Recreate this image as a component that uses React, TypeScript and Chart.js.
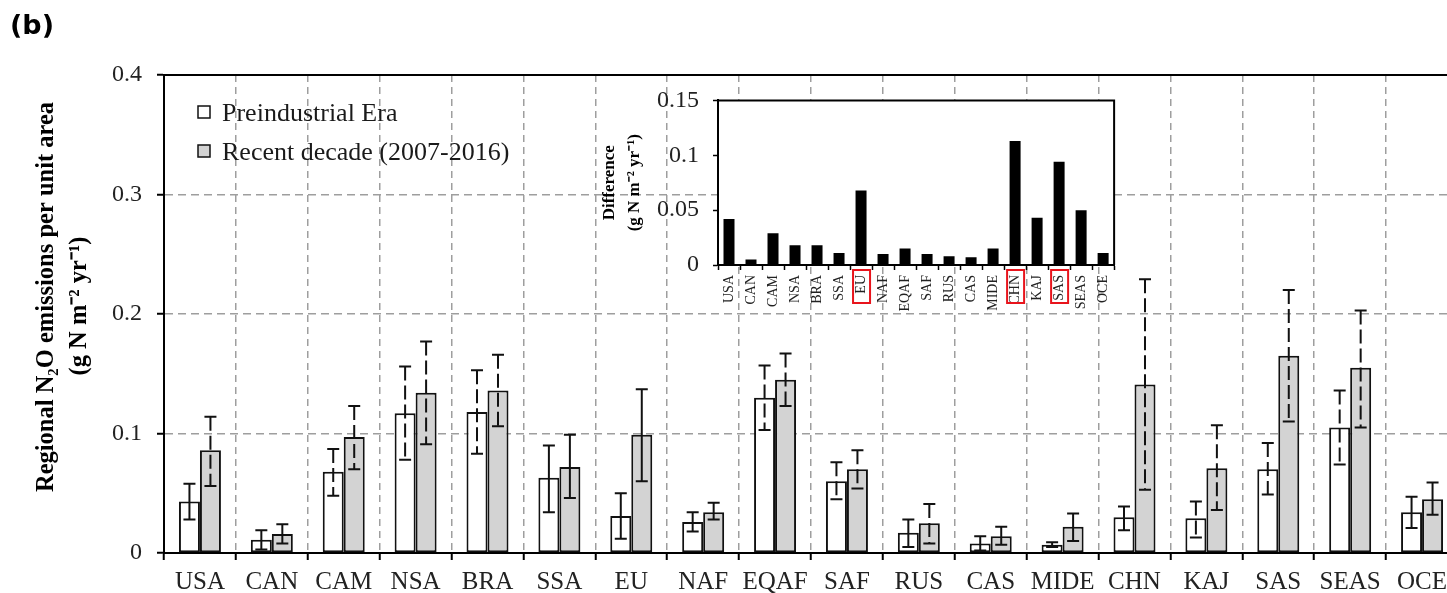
import React, { useEffect, useRef } from 'react';
import { Chart, registerables } from 'chart.js';

Chart.register(...registerables);

// ---------------- data ----------------
const categories = ['USA', 'CAN', 'CAM', 'NSA', 'BRA', 'SSA', 'EU', 'NAF', 'EQAF', 'SAF', 'RUS', 'CAS', 'MIDE', 'CHN', 'KAJ', 'SAS', 'SEAS', 'OCE'];

const preindustrial = [0.043, 0.011, 0.068, 0.117, 0.118, 0.063, 0.031, 0.026, 0.130, 0.060, 0.017, 0.008, 0.007, 0.030, 0.029, 0.070, 0.105, 0.034];
const preindustrialLow = [0.028, 0.003, 0.048, 0.078, 0.083, 0.034, 0.012, 0.018, 0.103, 0.045, 0.005, 0.002, 0.005, 0.019, 0.013, 0.049, 0.074, 0.021];
const preindustrialHigh = [0.058, 0.019, 0.087, 0.156, 0.153, 0.090, 0.050, 0.034, 0.157, 0.076, 0.028, 0.014, 0.009, 0.039, 0.043, 0.092, 0.136, 0.047];

const recentDecade = [0.086, 0.016, 0.097, 0.134, 0.136, 0.072, 0.099, 0.034, 0.145, 0.070, 0.025, 0.014, 0.022, 0.141, 0.071, 0.165, 0.155, 0.045];
const recentLow = [0.056, 0.008, 0.070, 0.091, 0.106, 0.046, 0.060, 0.028, 0.123, 0.054, 0.008, 0.007, 0.010, 0.053, 0.036, 0.110, 0.105, 0.032];
const recentHigh = [0.114, 0.024, 0.123, 0.177, 0.166, 0.099, 0.137, 0.042, 0.167, 0.086, 0.041, 0.022, 0.033, 0.229, 0.107, 0.220, 0.203, 0.059];

const difference = [0.042, 0.005, 0.029, 0.018, 0.018, 0.011, 0.068, 0.010, 0.015, 0.010, 0.008, 0.007, 0.015, 0.113, 0.043, 0.094, 0.050, 0.011];

const mainYTicks = [0, 0.1, 0.2, 0.3, 0.4];
const insetYTicks = [0, 0.05, 0.1, 0.15];

const seriesLabels = ['Preindustrial Era', 'Recent decade (2007-2016)'];
const mainYTitle = ['Regional N₂O emissions per unit area', '(g N m⁻² yr⁻¹)'];
const insetYTitle = ['Difference', '(g N m⁻² yr⁻¹)'];

// style-only lists
const highlightedRegions = ['EU', 'CHN', 'SAS'];
const dashedPre = ['CAM', 'NSA', 'BRA', 'EQAF', 'SAF', 'KAJ', 'SAS', 'SEAS'];
const dashedRecent = ['USA', 'CAM', 'NSA', 'BRA', 'EQAF', 'SAF', 'RUS', 'CHN', 'KAJ', 'SAS', 'SEAS'];

const SERIF = '"Liberation Serif", "Times New Roman", Times, serif';
const GRID = '#9e9e9e';

const errorBarPlugin = {
  id: 'errorBars',
  afterDatasetsDraw(chart: any) {
    const ctx = chart.ctx;
    const ys = chart.scales.y;
    const area = chart.chartArea;
    ctx.save();
    chart.data.datasets.forEach((ds: any, di: number) => {
      const meta = chart.getDatasetMeta(di);
      meta.data.forEach((bar: any, i: number) => {
        const x = bar.x;
        const yl = ys.getPixelForValue(ds.errLow[i]);
        const yh = ys.getPixelForValue(ds.errHigh[i]);
        ctx.strokeStyle = '#111';
        ctx.lineWidth = 2;
        ctx.setLineDash(ds.errDashed.includes(categories[i]) ? [14, 5] : []);
        ctx.beginPath();
        ctx.moveTo(x, yh);
        ctx.lineTo(x, yl);
        ctx.stroke();
        ctx.setLineDash([]);
        ctx.beginPath();
        ctx.moveTo(x - 6, yh);
        ctx.lineTo(x + 6, yh);
        ctx.moveTo(x - 6, yl);
        ctx.lineTo(x + 6, yl);
        ctx.stroke();
      });
    });
    // top frame line
    ctx.strokeStyle = '#000';
    ctx.lineWidth = 2;
    ctx.beginPath();
    ctx.moveTo(area.left - 1, area.top);
    ctx.lineTo(area.right, area.top);
    ctx.stroke();
    ctx.restore();
  },
};

const legendPlugin = {
  id: 'customLegend',
  afterDraw(chart: any) {
    const ctx = chart.ctx;
    const area = chart.chartArea;
    ctx.save();
    ctx.font = `26px ${SERIF}`;
    ctx.textBaseline = 'alphabetic';
    chart.data.datasets.forEach((ds: any, i: number) => {
      const baseY = area.top + 46 + i * 39;
      const bx = area.left + 34;
      ctx.fillStyle = ds.backgroundColor;
      ctx.fillRect(bx, baseY - 15, 12, 12);
      ctx.strokeStyle = '#111';
      ctx.lineWidth = 1.5;
      ctx.strokeRect(bx, baseY - 15, 12, 12);
      ctx.fillStyle = '#1a1a1a';
      ctx.fillText(ds.label, area.left + 58, baseY);
    });
    ctx.restore();
  },
};

// y-axis title of the main chart, two lines drawn rotated
const yTitlePlugin = {
  id: 'yTitle',
  afterDraw(chart: any) {
    const ctx = chart.ctx;
    const a = chart.chartArea;
    const midY = (a.top + a.bottom) / 2;
    const lines = [
      { text: mainYTitle[0], x: 47, y: midY - 17 },
      { text: mainYTitle[1], x: 80, y: midY - 8 },
    ];
    ctx.save();
    ctx.fillStyle = '#000';
    ctx.font = `bold 24.5px ${SERIF}`;
    ctx.textAlign = 'center';
    ctx.textBaseline = 'middle';
    lines.forEach((l) => {
      ctx.save();
      ctx.translate(l.x, l.y);
      ctx.rotate(-Math.PI / 2);
      ctx.fillText(l.text, 0, 0);
      ctx.restore();
    });
    ctx.restore();
  },
};

const insetPlugin = {
  id: 'insetFrame',
  beforeDraw(chart: any) {
    const ctx = chart.ctx;
    const a = chart.chartArea;
    ctx.save();
    ctx.fillStyle = '#ffffff';
    ctx.fillRect(a.left, a.top, a.right - a.left, a.bottom - a.top);
    ctx.restore();
  },
  afterDraw(chart: any) {
    const ctx = chart.ctx;
    const a = chart.chartArea;
    const xs = chart.scales.x;
    ctx.save();
    ctx.strokeStyle = '#000';
    ctx.lineWidth = 2;
    ctx.beginPath();
    ctx.moveTo(a.left, a.top);
    ctx.lineTo(a.right, a.top);
    ctx.lineTo(a.right, a.bottom);
    ctx.stroke();
    ctx.strokeStyle = '#e8141c';
    ctx.lineWidth = 2;
    highlightedRegions.forEach((name) => {
      const idx = categories.indexOf(name);
      const x = xs.getPixelForTick(idx);
      ctx.strokeRect(x - 8, a.bottom + 5, 17, 33);
    });
    ctx.restore();
  },
};

export default function App() {
  const mainRef = useRef<HTMLCanvasElement>(null);
  const insetRef = useRef<HTMLCanvasElement>(null);

  useEffect(() => {
    const main = new Chart(mainRef.current as HTMLCanvasElement, {
      type: 'bar',
      data: {
        labels: categories,
        datasets: [
          {
            label: seriesLabels[0],
            data: preindustrial,
            backgroundColor: '#ffffff',
            borderColor: '#111',
            borderWidth: 2,
            borderSkipped: false,
            categoryPercentage: 0.584,
            barPercentage: 1,
            errLow: preindustrialLow,
            errHigh: preindustrialHigh,
            errDashed: dashedPre,
          } as any,
          {
            label: seriesLabels[1],
            data: recentDecade,
            backgroundColor: '#d3d3d3',
            borderColor: '#111',
            borderWidth: 2,
            borderSkipped: false,
            categoryPercentage: 0.584,
            barPercentage: 1,
            errLow: recentLow,
            errHigh: recentHigh,
            errDashed: dashedRecent,
          } as any,
        ],
      },
      options: {
        responsive: false,
        animation: false,
        devicePixelRatio: 1,
        layout: { padding: { left: 0, top: 75, right: 2, bottom: 0 } },
        plugins: { legend: { display: false }, tooltip: { enabled: false }, title: { display: false } },
        scales: {
          x: {
            type: 'category',
            offset: true,
            afterFit: (s: any) => { s.height = 40; },
            grid: {
              offset: true,
              color: (c: any) => (c.index === 0 ? 'rgba(0,0,0,0)' : GRID),
              lineWidth: 1.5,
              tickLength: 7,
              tickColor: '#000',
              tickWidth: 2,
              tickBorderDash: [],
            },
            border: { display: true, color: '#000', width: 2, dash: [7, 5] },
            ticks: {
              font: { family: SERIF, size: 25 },
              color: '#222',
              padding: 7,
              maxRotation: 0,
              minRotation: 0,
              autoSkip: false,
            },
          },
          y: {
            min: 0,
            max: 0.4,
            afterBuildTicks: (s: any) => { s.ticks = mainYTicks.map((v) => ({ value: v })); },
            afterFit: (s: any) => { s.width = 164; },
            grid: {
              color: (c: any) => (c.tick && (c.tick.value === 0 || c.tick.value === 0.4) ? 'rgba(0,0,0,0)' : GRID),
              lineWidth: 1.5,
              tickLength: 7,
              tickColor: '#000',
              tickWidth: 2,
              tickBorderDash: [],
            },
            border: { display: true, color: '#000', width: 2, dash: [8, 5] },
            ticks: {
              font: { family: SERIF, size: 24 },
              color: '#222',
              padding: 15,
              callback: (v: any) => String(v),
            },
          },
        },
      },
      plugins: [errorBarPlugin, legendPlugin, yTitlePlugin],
    });

    const inset = new Chart(insetRef.current as HTMLCanvasElement, {
      type: 'bar',
      data: {
        labels: categories,
        datasets: [
          {
            label: 'Difference',
            data: difference,
            backgroundColor: '#000',
            borderWidth: 0,
            categoryPercentage: 1,
            barPercentage: 0.5,
          },
        ],
      },
      options: {
        responsive: false,
        animation: false,
        devicePixelRatio: 1,
        layout: { padding: { left: 0, top: 12, right: 3, bottom: 0 } },
        plugins: { legend: { display: false }, tooltip: { enabled: false }, title: { display: false } },
        scales: {
          x: {
            type: 'category',
            offset: true,
            afterFit: (s: any) => { s.height = 55; },
            grid: {
              offset: true,
              drawOnChartArea: false,
              tickLength: 5,
              tickColor: '#000',
              tickWidth: 1.5,
            },
            border: { display: true, color: '#000', width: 2 },
            ticks: {
              font: { family: SERIF, size: 14 },
              color: '#222',
              padding: 5,
              maxRotation: 90,
              minRotation: 90,
              autoSkip: false,
            },
          },
          y: {
            min: 0,
            max: 0.15,
            afterBuildTicks: (s: any) => { s.ticks = insetYTicks.map((v) => ({ value: v })); },
            afterFit: (s: any) => { s.width = 128; },
            grid: {
              drawOnChartArea: false,
              tickLength: 5,
              tickColor: '#000',
              tickWidth: 1.5,
            },
            border: { display: true, color: '#000', width: 2 },
            ticks: {
              font: { family: SERIF, size: 24 },
              color: '#222',
              padding: 14,
              callback: (v: any) => String(v),
            },
            title: {
              display: true,
              text: insetYTitle,
              color: '#000',
              font: { family: SERIF, size: 17, weight: 'bold', lineHeight: 1.47 },
              padding: { top: 7, bottom: 0 },
            },
          },
        },
      },
      plugins: [insetPlugin],
    });

    return () => {
      main.destroy();
      inset.destroy();
    };
  }, []);

  return (
    <div
      style={{
        position: 'fixed',
        left: 0,
        top: 0,
        width: 1447,
        height: 593,
        overflow: 'hidden',
        background: '#ffffff',
      }}
    >
      <canvas
        ref={mainRef}
        width={1460}
        height={593}
        style={{ position: 'absolute', left: 0, top: 0, width: 1460, height: 593 }}
      />
      <canvas
        ref={insetRef}
        width={535}
        height={248}
        style={{ position: 'absolute', left: 590, top: 72, width: 535, height: 248 }}
      />
      <div
        style={{
          position: 'absolute',
          left: 10,
          top: 11,
          font: 'bold 27px "DejaVu Sans", "Liberation Sans", Arial, sans-serif',
          lineHeight: '27px',
          color: '#000',
        }}
      >
        (b)
      </div>
    </div>
  );
}
